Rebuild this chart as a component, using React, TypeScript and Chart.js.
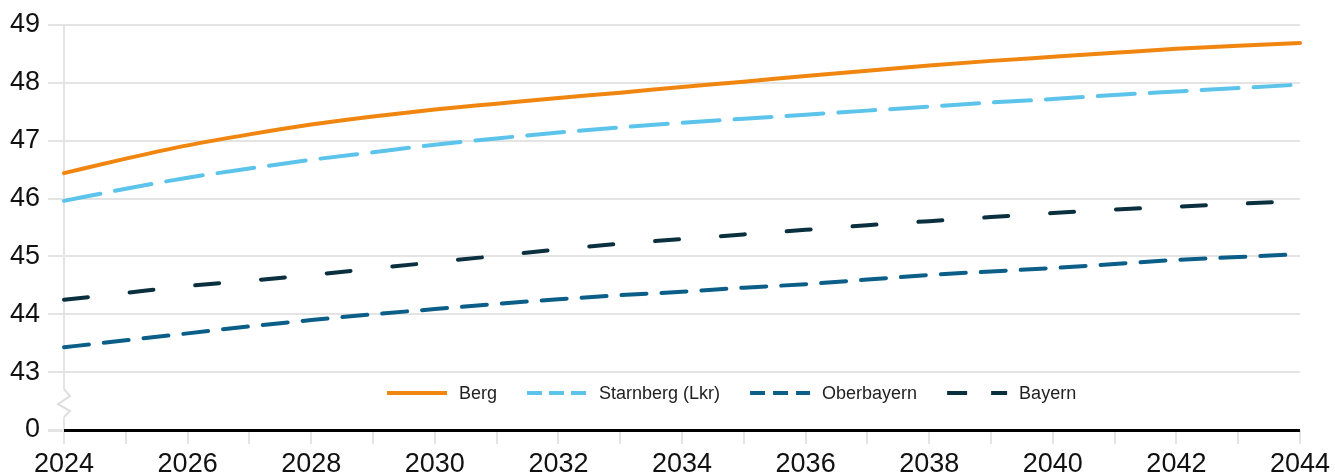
import { Chart, ChartConfiguration, Plugin, registerables } from "chart.js";
import { useEffect, useRef } from "react";

Chart.register(...registerables);

const years = [
  "2024", "2025", "2026", "2027", "2028", "2029", "2030", "2031", "2032", "2033", "2034",
  "2035", "2036", "2037", "2038", "2039", "2040", "2041", "2042", "2043", "2044",
];

const berg = [
  46.44, 46.69, 46.92, 47.11, 47.28, 47.42, 47.54, 47.64, 47.74, 47.83, 47.93,
  48.02, 48.12, 48.21, 48.3, 48.38, 48.45, 48.52, 48.59, 48.64, 48.69,
];
const starnberg = [
  45.96, 46.17, 46.36, 46.52, 46.67, 46.8, 46.93, 47.04, 47.14, 47.23, 47.31,
  47.38, 47.45, 47.52, 47.59, 47.66, 47.72, 47.79, 47.85, 47.91, 47.97,
];
const oberbayern = [
  43.43, 43.55, 43.67, 43.79, 43.9, 44.0, 44.09, 44.18, 44.26, 44.33, 44.39,
  44.46, 44.52, 44.6, 44.68, 44.74, 44.8, 44.87, 44.94, 44.99, 45.04,
];
const bayern = [
  44.25, 44.37, 44.49, 44.58, 44.68, 44.79, 44.9, 45.01, 45.12, 45.22, 45.3,
  45.38, 45.46, 45.54, 45.61, 45.68, 45.75, 45.81, 45.86, 45.91, 45.96,
];

// the axis is broken: the lowest step (42) stands for 0
const yTicks = [42, 43, 44, 45, 46, 47, 48, 49];
const yTickText = ["0", "43", "44", "45", "46", "47", "48", "49"];

const seriesNames = ["Berg", "Starnberg (Lkr)", "Oberbayern", "Bayern"];
const seriesColors = ["#f0860f", "#5cc4ea", "#0a5e88", "#0a2f3e"];
const lineDashes = [[], [37, 15], [25, 15], [24, 42]];
const legendDashes = [[], [15, 7], [15, 8], [20, 24]];

const GRID = "#e4e4e4";
const FONT = "'Liberation Sans', Arial, sans-serif";

// zigzag on the y axis line between 43 and 0
const axisBreak: Plugin<"line"> = {
  id: "axisBreak",
  beforeDatasetsDraw(chart) {
    const { ctx, chartArea, scales } = chart;
    const x = chartArea.left;
    const yTop = scales.y.getPixelForValue(43);
    const yBot = scales.y.getPixelForValue(42);
    const mid = (yTop + yBot) / 2 + 2;
    ctx.save();
    ctx.fillStyle = "#fff";
    ctx.fillRect(x - 3, mid - 14, 6, 28);
    ctx.strokeStyle = "#dedede";
    ctx.lineWidth = 2;
    ctx.beginPath();
    ctx.moveTo(x, mid - 14);
    ctx.lineTo(x + 6, mid - 7);
    ctx.lineTo(x - 6, mid + 1);
    ctx.lineTo(x + 6, mid + 8);
    ctx.lineTo(x, mid + 14);
    ctx.stroke();
    ctx.restore();
  },
};

// legend drawn inside the plot, above the zero line
const innerLegend: Plugin<"line"> = {
  id: "innerLegend",
  afterDatasetsDraw(chart) {
    const { ctx } = chart;
    const y = 393;
    let x = 387;
    ctx.save();
    ctx.font = `18px ${FONT}`;
    ctx.textBaseline = "middle";
    ctx.fillStyle = "#222";
    chart.data.datasets.forEach((ds, i) => {
      ctx.strokeStyle = seriesColors[i];
      ctx.lineWidth = 4;
      ctx.lineCap = "butt";
      ctx.setLineDash(legendDashes[i]);
      ctx.beginPath();
      ctx.moveTo(x, y);
      ctx.lineTo(x + 60, y);
      ctx.stroke();
      ctx.setLineDash([]);
      ctx.fillText(ds.label as string, x + 72, y + 1);
      x += 72 + ctx.measureText(ds.label as string).width + 30;
    });
    ctx.restore();
  },
};

const App: React.FC = () => {
  const canvasRef = useRef<HTMLCanvasElement | null>(null);
  const chartRef = useRef<Chart<"line"> | null>(null);

  useEffect(() => {
    document.body.style.margin = "0";

    const values = [berg, starnberg, oberbayern, bayern];

    const config: ChartConfiguration<"line"> = {
      type: "line",
      data: {
        labels: years,
        datasets: values.map((v, i) => ({
          label: seriesNames[i],
          data: v,
          borderColor: seriesColors[i],
          backgroundColor: seriesColors[i],
          borderWidth: 4,
          borderDash: lineDashes[i],
          borderCapStyle: "round" as const,
          pointRadius: 0,
          cubicInterpolationMode: "monotone" as const,
        })),
      },
      options: {
        responsive: false,
        animation: false,
        layout: { padding: { top: 25, right: 0, left: 2, bottom: -9 } },
        plugins: {
          legend: { display: false },
          tooltip: { enabled: false },
        },
        scales: {
          x: {
            border: { display: false },
            afterFit: (scale) => {
              scale.paddingRight = 35;
            },
            grid: {
              color: (c) => (c.index === 0 ? GRID : "rgba(0,0,0,0)"),
              tickColor: GRID,
              lineWidth: 2,
              tickLength: 14,
            },
            ticks: {
              autoSkip: false,
              maxRotation: 0,
              padding: 7,
              color: "#111",
              font: { family: FONT, size: 27, lineHeight: 1 },
              callback: (_v, i) => (i % 2 === 0 ? years[i] : ""),
            },
          },
          y: {
            min: 42,
            max: 49,
            border: { display: false },
            afterBuildTicks: (axis) => {
              axis.ticks = yTicks.map((value) => ({ value }));
            },
            grid: {
              color: (c) => (c.tick && c.tick.value === 42 ? "#000" : GRID),
              lineWidth: (c) => (c.tick && c.tick.value === 42 ? 3 : 2),
              tickColor: GRID,
              tickLength: 16,
            },
            ticks: {
              padding: 8,
              color: "#111",
              font: { family: FONT, size: 27, lineHeight: 1 },
              callback: (v) => yTickText[yTicks.indexOf(Number(v))],
            },
          },
        },
      },
      plugins: [axisBreak, innerLegend],
    };

    if (chartRef.current) {
      chartRef.current.destroy();
    }
    if (canvasRef.current) {
      chartRef.current = new Chart(canvasRef.current, config);
    }

    return () => {
      if (chartRef.current) {
        chartRef.current.destroy();
        chartRef.current = null;
      }
    };
  }, []);

  return (
    <div style={{ width: 1335, height: 476 }}>
      <canvas ref={canvasRef} width={1335} height={476} />
    </div>
  );
};

export default App;
